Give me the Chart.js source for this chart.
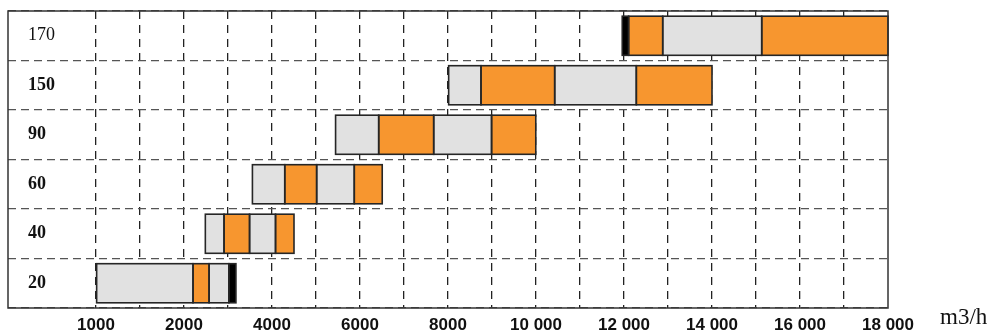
<!DOCTYPE html>
<html lang="ru">
<head>
    <meta charset="UTF-8">
    <title>Chart</title>
    <style>
        body { margin: 0; background: #fff; }
        #wrap { position: relative; width: 993px; height: 333px; }
        #unit { position: absolute; left: 940px; top: 304px; font: 23px "Liberation Serif", serif; color: #111; }
    </style>
</head>
<body>
    <div id="wrap">
        <canvas id="myChart" width="993" height="333"></canvas>
        <div id="unit">m3/h</div>
    </div>

    <script src="https://cdn.jsdelivr.net/npm/chart.js"></script>

    <script>
        // строки (модули) сверху вниз
        const rowLabels = ['170', '150', '90', '60', '40', '20']
        // границы отрезков по оси x (единицы шкалы), по 4 отрезка в строке
        const edges170 = [11960, 12105, 12880, 15130, 18000]
        const edges150 = [8015, 8750, 10425, 12280, 14000]
        const edges90 = [5445, 6425, 7675, 8990, 9995]
        const edges60 = [3555, 4290, 5015, 5870, 6505]
        const edges40 = [2485, 2910, 3490, 4080, 4500]
        const edges20 = [0, 2205, 2570, 3020, 3180]
        // тип отрезка: g - серый, o - оранжевый, k - чёрный
        const kinds170 = ['k', 'o', 'g', 'o']
        const kinds150 = ['g', 'o', 'g', 'o']
        const kinds90 = ['g', 'o', 'g', 'o']
        const kinds60 = ['g', 'o', 'g', 'o']
        const kinds40 = ['g', 'o', 'g', 'o']
        const kinds20 = ['g', 'o', 'g', 'k']
        const xTicks = [0, 2000, 4000, 6000, 8000, 10000, 12000, 14000, 16000, 18000]

        const allEdges = [edges170, edges150, edges90, edges60, edges40, edges20]
        const allKinds = [kinds170, kinds150, kinds90, kinds60, kinds40, kinds20]
        const palette = { g: '#e1e1e1', o: '#f7962f', k: '#000000' }

        const datasets = [0, 1, 2, 3].map(i => ({
            label: 'seg' + i,
            data: allEdges.map(e => [e[i], e[i + 1]]),
            backgroundColor: allKinds.map(k => palette[k[i]]),
            borderWidth: 0,
            grouped: false,
            categoryPercentage: 1,
            barPercentage: 0.79
        }))

        // контур отрезков и рамка области графика
        const outline = {
            id: 'outline',
            afterDatasetsDraw(chart) {
                const c = chart.ctx
                c.save()
                c.strokeStyle = '#262626'
                c.lineWidth = 1.6
                chart.data.datasets.forEach((d, i) => {
                    chart.getDatasetMeta(i).data.forEach(b => {
                        const l = Math.min(b.x, b.base), r = Math.max(b.x, b.base)
                        c.strokeRect(l, b.y - b.height / 2, r - l, b.height)
                    })
                })
                c.restore()
            },
            afterDraw(chart) {
                const a = chart.chartArea, c = chart.ctx
                c.save()
                c.strokeStyle = '#333'
                c.lineWidth = 1.5
                c.strokeRect(a.left, a.top, a.right - a.left, a.bottom - a.top)
                c.restore()
            }
        }

        function fmt(v) {
            if (v === 0) return '1000'
            if (v >= 10000) return Math.floor(v / 1000) + ' 000'
            return String(v)
        }

        new Chart(document.getElementById('myChart'), {
            type: 'bar',
            data: { labels: rowLabels, datasets },
            options: {
                indexAxis: 'y',
                responsive: false,
                animation: false,
                layout: { padding: { left: 8, top: 11, right: 105, bottom: 0 } },
                plugins: { legend: { display: false }, tooltip: { enabled: false } },
                scales: {
                    x: {
                        min: -2000,
                        max: 18000,
                        afterBuildTicks: s => {
                            const t = []
                            for (let v = -2000; v <= 18000; v += 1000) t.push({ value: v })
                            s.ticks = t
                        },
                        afterFit: s => { s.height = 25 },
                        ticks: {
                            autoSkip: false,
                            maxRotation: 0,
                            padding: 7,
                            color: '#111',
                            font: { family: '"Liberation Sans", Arial, sans-serif', size: 17, weight: 'bold' },
                            callback: v => xTicks.includes(v) ? fmt(v) : ''
                        },
                        grid: {
                            drawTicks: false,
                            lineWidth: 1.3,
                            color: c => c.tick && c.tick.value >= 0 && c.tick.value < 18000 ? '#222' : 'rgba(0,0,0,0)'
                        },
                        border: { display: false, dash: [8, 6] }
                    },
                    y: {
                        afterFit: s => {
                            s.width = 0
                            s.paddingTop = 0
                            s.paddingBottom = 0
                        },
                        ticks: {
                            mirror: true,
                            padding: 20,
                            color: '#111',
                            font: c => ({ family: '"Liberation Serif", "Times New Roman", serif', size: 18, weight: c.index === 0 ? 'normal' : 'bold' })
                        },
                        grid: { drawTicks: false, lineWidth: 1.3, color: '#555' },
                        border: { display: false, dash: [8, 5] }
                    }
                }
            },
            plugins: [outline]
        })
    </script>
</body>
</html>
